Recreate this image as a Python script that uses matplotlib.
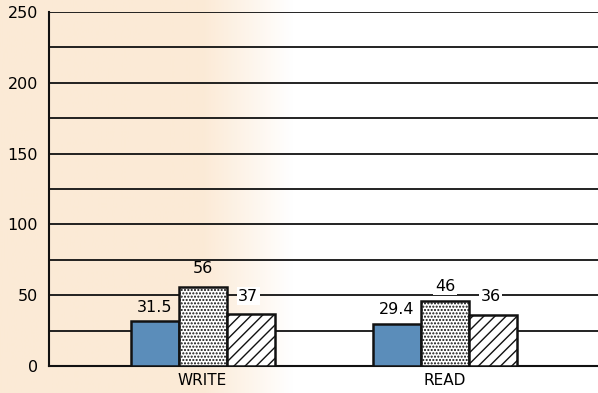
import numpy as np
import matplotlib
matplotlib.use("Agg")
import matplotlib.pyplot as plt

# benchmark values per operation
categories = ["WRITE", "READ"]
series_a = [31.5, 29.4]   # solid blue
series_b = [56, 46]       # dotted
series_c = [37, 36]       # hatched
label_a = ["31.5", "29.4"]
label_b = ["56", "46"]
label_c = ["37", "36"]
yticks = [0, 50, 100, 150, 200, 250]

plt.rcParams["font.family"] = ["DejaVu Sans"]
plt.rcParams["hatch.linewidth"] = 1.0

fig = plt.figure(figsize=(5.98, 3.93), dpi=100)
fig.patch.set_facecolor("white")

# warm paper tint on the left fading to white
bg = fig.add_axes([0, 0, 1, 1], zorder=-1)
grad = np.linspace(0, 1, 600)
tint = np.ones((1, 600, 4))
tint[..., 0] = 0.985
tint[..., 1] = 0.90
tint[..., 2] = 0.80
tint[..., 3] = np.clip((0.49 - grad) / 0.15, 0, 1) * 0.8
bg.imshow(tint, aspect="auto", extent=[0, 1, 0, 1])
bg.set_xlim(0, 1)
bg.set_ylim(0, 1)
bg.axis("off")

ax = fig.add_axes([49 / 598, 27 / 393, 549 / 598, 354 / 393])
ax.set_facecolor("none")

w = 1.0
centers = np.array([3.2, 8.25])
xa = centers - w
xb = centers
xc = centers + w

ax.bar(xa, series_a, w, color="#5b8dba", edgecolor="#111111", linewidth=1.8, zorder=3)
ax.bar(xb, series_b, w, color="white", edgecolor="#111111", linewidth=1.8,
       hatch=".....", zorder=3)
ax.bar(xc, series_c, w, color="white", edgecolor="#111111", linewidth=1.8,
       hatch="///", zorder=3)

# gap in the grid line behind labels that sit on one
box = dict(facecolor="white", edgecolor="none", pad=1.0)
for i, (x, v, s) in enumerate(zip(xa, series_a, label_a)):
    ax.text(x, v + [4.5, 5][i], s, ha="center", va="bottom", fontsize=11.5, zorder=4)
for i, (x, v, s) in enumerate(zip(xb, series_b, label_b)):
    ax.text(x, v + [7.5, 5][i], s, ha="center", va="bottom", fontsize=11.5, zorder=4,
            bbox=[None, box][i])
for i, (x, v, s) in enumerate(zip(xc, series_c, label_c)):
    ax.text(x - 0.05, v + [7, 7.5][i], s, ha="center", va="bottom", fontsize=11.5,
            zorder=4, bbox=box)

ax.set_xlim(0, 549 / 48)
ax.set_ylim(0, 250)
ax.set_yticks(yticks)
ax.set_yticklabels([str(t) for t in yticks], fontsize=11.5)
ax.set_xticks(centers)
ax.set_xticklabels(categories, fontsize=11)
ax.tick_params(axis="y", length=0, pad=8)
ax.tick_params(axis="x", length=0, pad=5)

for y in np.arange(25, 251, 25):
    ax.axhline(y, color="#111111", linewidth=1.3, zorder=1)

for side in ["top", "right"]:
    ax.spines[side].set_visible(False)
for side in ["left", "bottom"]:
    ax.spines[side].set_linewidth(1.5)
    ax.spines[side].set_color("#111111")

fig.savefig("out.png", dpi=100)
